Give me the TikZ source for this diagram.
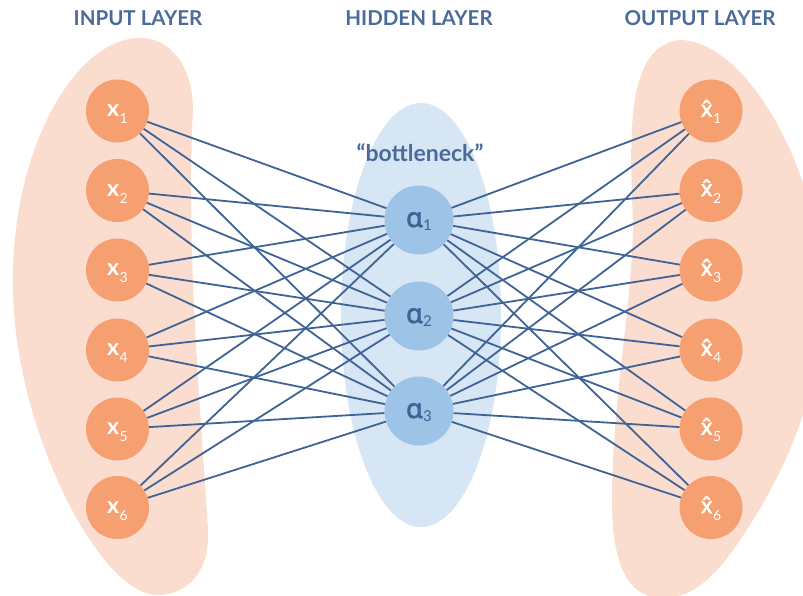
\documentclass[tikz,border=0pt]{standalone}
\usepackage{fontspec}
\usepackage{graphicx}
\setmainfont{Lato}
\newfontface\ipabold[FakeBold=2.2]{Noto Sans}
\definecolor{blob}{RGB}{251,221,207}
\definecolor{nodeor}{RGB}{246,160,114}
\definecolor{hidfill}{RGB}{157,195,230}
\definecolor{hidbg}{RGB}{214,230,245}
\definecolor{linec}{RGB}{62,99,148}
\definecolor{headc}{RGB}{74,107,154}
\newcommand\subdig[1]{\raisebox{-0.3em}{\fontsize{14}{14}\selectfont\mdseries #1}}
\newcommand\xin[1]{x\kern0.5pt\subdig{#1}}
\newcommand\xout[1]{{\ipabold\fontsize{22}{24}\selectfont x̂}\kern0.5pt\subdig{#1}}
\newcommand\ain[1]{{\ipabold\fontsize{27}{27}\selectfont ɑ}\kern0.5pt\raisebox{-0.3em}{\fontsize{15}{15}\selectfont #1}}
\begin{document}
\begin{tikzpicture}[x=1pt,y=-1pt,
  inode/.style={circle,fill=nodeor,minimum size=63pt,inner sep=0pt,text=white,
    font=\fontsize{23}{24}\selectfont\bfseries,text height=11.5pt,text depth=0pt},
  hnode/.style={circle,fill=hidfill,minimum size=69pt,inner sep=0pt,text=linec,
    text height=14pt,text depth=0pt},
  conn/.style={draw=linec,line width=1.8pt},
  head/.style={text=headc,font=\fontsize{20.5}{21}\selectfont\bfseries,anchor=base,inner sep=0pt}]
\useasboundingbox (0,0) rectangle (803,596);
\clip (0,0) rectangle (803,596);
% background blobs
\fill[blob] (140,38) .. controls (172,38) and (193,68) .. (193,110)
  .. controls (186,250) and (200,400) .. (208,530)
  .. controls (210,575) and (185,595) .. (157,595)
  .. controls (100,595) and (15,430) .. (13,290)
  .. controls (10,150) and (75,38) .. (140,38) -- cycle;
\fill[blob] (680,40) .. controls (740,40) and (810,150) .. (822,270)
  .. controls (827,380) and (790,460) .. (753,520)
  .. controls (725,565) and (700,598) .. (663,598)
  .. controls (625,598) and (612,560) .. (612,500)
  .. controls (612,400) and (633,300) .. (633,220)
  .. controls (628,120) and (630,45) .. (680,40) -- cycle;
\fill[hidbg] (421,315) ellipse [x radius=80, y radius=212];
% nodes
\foreach \i/\y in {1/111,2/190.5,3/270,4/350,5/429,6/507.5} {
  \node[inode] (x\i) at (117.5,\y) {\xin{\i}};
  \node[inode] (y\i) at (711,\y) {\xout{\i}};
}
\node[hnode] (a1) at (419,220) {\ain{1}};
\node[hnode] (a2) at (419,316) {\ain{2}};
\node[hnode] (a3) at (419,411) {\ain{3}};
% connectors
\foreach \i in {1,...,6} {
  \foreach \j in {1,2,3} {
    \draw[conn] (x\i) -- (a\j);
    \draw[conn] (a\j) -- (y\i);
  }
}
% titles
\node[head] (tin) at (138,26) {INPUT LAYER};
\node[head] (thid) at (419,26) {HIDDEN LAYER};
\node[head] (tout) at (700,26) {OUTPUT LAYER};
\node[head,font=\fontsize{23}{23}\selectfont\bfseries] (tbn) at (420,162) {“bottleneck”};
\end{tikzpicture}
\end{document}
